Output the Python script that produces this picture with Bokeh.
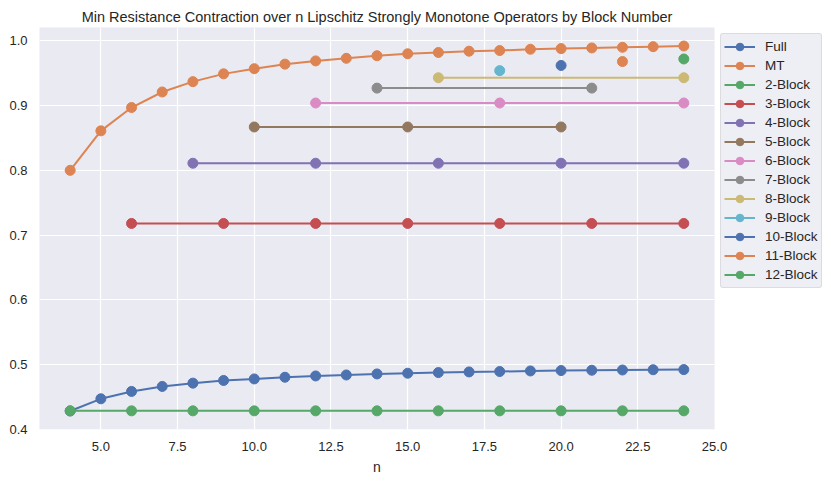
from bokeh.plotting import figure
from bokeh.models import Range1d, FixedTicker, NumeralTickFormatter, Legend, LegendItem
from bokeh.embed import file_html
from bokeh.resources import INLINE

# ---- data ----
n_all = list(range(4, 25))
full = [0.4284, 0.4472, 0.4586, 0.4663, 0.4714, 0.4755, 0.4779, 0.4805, 0.4825, 0.4840,
        0.4856, 0.4867, 0.4877, 0.4887, 0.4893, 0.4902, 0.4908, 0.4913, 0.4917, 0.4921, 0.4923]
mt = [0.800, 0.861, 0.897, 0.921, 0.937, 0.949, 0.957, 0.964, 0.969, 0.973,
      0.977, 0.980, 0.982, 0.984, 0.985, 0.987, 0.988, 0.989, 0.990, 0.991, 0.992]

block_names = ["2-Block", "3-Block", "4-Block", "5-Block", "6-Block", "7-Block",
               "8-Block", "9-Block", "10-Block", "11-Block", "12-Block"]
block_n = [
    [4, 6, 8, 10, 12, 14, 16, 18, 20, 22, 24],
    [6, 9, 12, 15, 18, 21, 24],
    [8, 12, 16, 20, 24],
    [10, 15, 20],
    [12, 18, 24],
    [14, 21],
    [16, 24],
    [18],
    [20],
    [22],
    [24],
]
block_vals = [0.4286, 0.718, 0.811, 0.867, 0.904, 0.927, 0.943, 0.954, 0.962, 0.968, 0.972]

x_ticks = [5.0, 7.5, 10.0, 12.5, 15.0, 17.5, 20.0, 22.5, 25.0]
y_ticks = [0.4, 0.5, 0.6, 0.7, 0.8, 0.9, 1.0]

title_text = "Min Resistance Contraction over n Lipschitz Strongly Monotone Operators by Block Number"

palette = ["#4C72B0", "#DD8452", "#55A868", "#C44E52", "#8172B3",
           "#937860", "#DA8BC3", "#8C8C8C", "#CCB974", "#64B5CD"]

FONT = "Liberation Sans"
TXT = "#262626"

p = figure(frame_width=675, frame_height=402,
           x_range=Range1d(3, 25), y_range=Range1d(0.3998, 1.0206),
           output_backend="svg", toolbar_location=None,
           background_fill_color="#EAEAF2", border_fill_color="white",
           min_border_left=39, min_border_top=27, min_border_right=0, min_border_bottom=10)
p.outline_line_color = None

p.title.text = title_text
p.title.align = "center"
p.title.text_font = FONT
p.title.text_font_size = "14.5px"
p.title.text_font_style = "normal"
p.title.text_color = TXT
p.title.standoff = 6

for ax in (p.xaxis[0], p.yaxis[0]):
    ax.axis_line_color = None
    ax.major_tick_line_color = None
    ax.minor_tick_line_color = None
    ax.major_tick_out = 0
    ax.major_tick_in = 0
    ax.major_label_text_font = FONT
    ax.major_label_text_font_size = "13px"
    ax.major_label_text_color = TXT
    ax.major_label_standoff = 12
    ax.formatter = NumeralTickFormatter(format="0.0")

p.xaxis.ticker = FixedTicker(ticks=x_ticks)
p.yaxis.ticker = FixedTicker(ticks=y_ticks)
p.xaxis.axis_label = "n"
p.xaxis.axis_label_text_font = FONT
p.xaxis.axis_label_text_font_size = "14px"
p.xaxis.axis_label_text_font_style = "normal"
p.xaxis.axis_label_text_color = TXT
p.xaxis.axis_label_standoff = 5

p.xgrid.ticker = FixedTicker(ticks=x_ticks)
p.ygrid.ticker = FixedTicker(ticks=y_ticks)
for g in (p.xgrid[0], p.ygrid[0]):
    g.grid_line_color = "white"
    g.grid_line_width = 1.2

items = []

def add_series(label, xs, ys, color):
    r1 = p.line(xs, ys, line_color=color, line_width=2)
    r2 = p.scatter(xs, ys, size=10, fill_color=color, line_color=color)
    items.append(LegendItem(label=label, renderers=[r1, r2]))

add_series("Full", n_all, full, palette[0])
add_series("MT", n_all, mt, palette[1])
for i, (name, xs, v) in enumerate(zip(block_names, block_n, block_vals)):
    add_series(name, xs, [v] * len(xs), palette[(i + 2) % 10])

legend = Legend(items=items, location="top_left")
legend.margin = 6
legend.padding = 3
legend.spacing = 0
legend.label_height = 19
legend.glyph_height = 19
legend.glyph_width = 31
legend.label_standoff = 10
legend.label_text_font = FONT
legend.label_text_font_size = "13.5px"
legend.label_text_color = TXT
legend.border_line_color = "#CCCCCC"
legend.border_line_width = 1
legend.border_radius = 3
legend.background_fill_color = "#EAEAF2"
legend.background_fill_alpha = 0.8
p.add_layout(legend, "right")

open("out.html", "w").write(file_html(p, INLINE))
